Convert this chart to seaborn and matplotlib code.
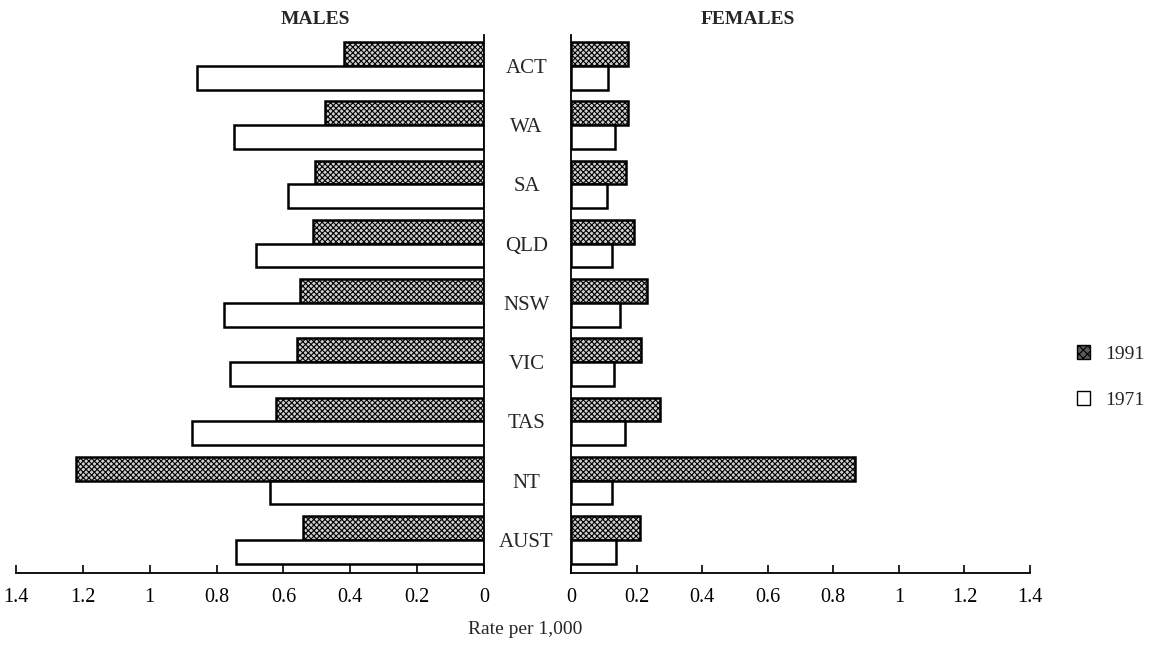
import pandas as pd
import matplotlib
matplotlib.use("Agg")
import matplotlib.pyplot as plt
import seaborn as sns
from matplotlib.patches import Patch
from matplotlib.ticker import FormatStrFormatter, MultipleLocator

# Data (rate per 1,000)
states = ["ACT", "WA", "SA", "QLD", "NSW", "VIC", "TAS", "NT", "AUST"]
years = ["1991", "1971"]
males_1991 = [0.42, 0.475, 0.507, 0.513, 0.55, 0.558, 0.622, 1.22, 0.541]
males_1971 = [0.859, 0.749, 0.587, 0.682, 0.779, 0.761, 0.875, 0.641, 0.742]
females_1991 = [0.174, 0.175, 0.167, 0.193, 0.233, 0.214, 0.270, 0.866, 0.210]
females_1971 = [0.112, 0.134, 0.110, 0.125, 0.149, 0.130, 0.165, 0.126, 0.136]


def long_table(v1991, v1971):
    return pd.DataFrame({
        "state": states * 2,
        "year": ["1991"] * len(states) + ["1971"] * len(states),
        "rate": v1991 + v1971,
    })


df_m = long_table(males_1991, males_1971)
df_f = long_table(females_1991, females_1971)

sns.set_theme(style="white")
plt.rcParams["font.family"] = ["Liberation Serif", "DejaVu Serif"]
plt.rcParams["hatch.color"] = "#444444"
plt.rcParams["hatch.linewidth"] = 0.8

W, H = 1155, 646
top, bottom = 35, 573
fig = plt.figure(figsize=(W / 100, H / 100), dpi=100)
ax_m = fig.add_axes([16 / W, 1 - bottom / H, (484 - 16) / W, (bottom - top) / H])
ax_f = fig.add_axes([571 / W, 1 - bottom / H, (1030 - 571) / W, (bottom - top) / H])

palette = {"1991": "#cfcfcf", "1971": "white"}

for ax, df in [(ax_m, df_m), (ax_f, df_f)]:
    sns.barplot(data=df, y="state", x="rate", hue="year", hue_order=years,
                order=states, orient="h", palette=palette, width=0.8,
                edgecolor="black", linewidth=1.8, saturation=1, ax=ax,
                legend=False)
    for bar in ax.containers[0]:
        bar.set_hatch("xxxxxx")
    ax.set_ylim(8.56, -0.52)
    ax.set_xlabel("")
    ax.set_ylabel("")
    ax.xaxis.set_major_locator(MultipleLocator(0.2))
    ax.xaxis.set_major_formatter(FormatStrFormatter("%g"))
    ax.tick_params(axis="x", direction="in", length=6, width=1.2,
                   labelsize=14.5, pad=11, bottom=True, colors="black")
    for s in ax.spines.values():
        s.set_color("black")
        s.set_linewidth(1.3)
    ax.spines["top"].set_visible(False)

# males: reversed axis, zero on the right
ax_m.set_xlim(1.4, 0)
ax_m.spines["left"].set_visible(False)
ax_m.set_yticks([])

# females: category labels sit between the panels
ax_f.set_xlim(0, 1.4)
ax_f.spines["right"].set_visible(False)
ax_f.set_yticks(range(len(states)))
ax_f.set_yticklabels(states)
ax_f.tick_params(axis="y", length=0, pad=32, labelsize=15)
for lab in ax_f.get_yticklabels():
    lab.set_ha("center")

ax_m.set_title("MALES", fontsize=14, fontweight="bold", pad=8, x=0.64)
ax_f.set_title("FEMALES", fontsize=14, fontweight="bold", pad=8, x=0.386)
fig.text(525 / W, 1 - 630 / H, "Rate per 1,000", ha="center",
         va="center", fontsize=14)

handles = [
    Patch(facecolor="#5a5a5a", edgecolor="black", hatch="xxxx", label="1991"),
    Patch(facecolor="white", edgecolor="black", label="1971"),
]
fig.legend(handles=handles, loc="center left",
           bbox_to_anchor=(1059 / W, 1 - 377 / H), frameon=False,
           fontsize=14, handlelength=0.7, handleheight=0.7,
           handletextpad=0.8, labelspacing=1.45)

fig.savefig("out.png", dpi=100)
